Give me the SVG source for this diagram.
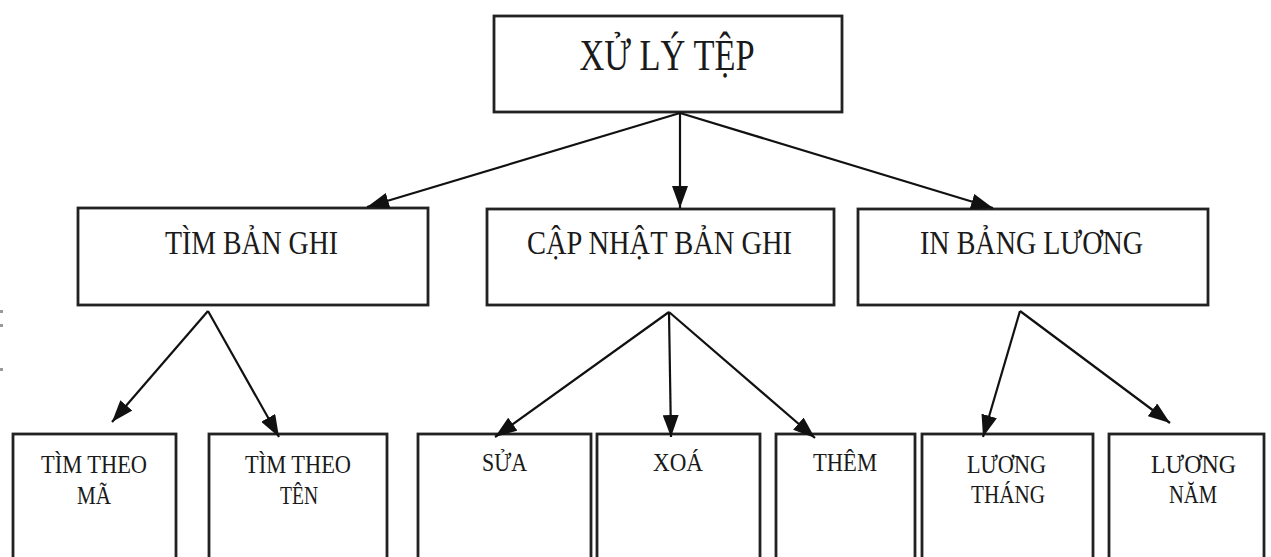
<svg xmlns="http://www.w3.org/2000/svg" width="1271" height="557" viewBox="0 0 1271 557">
  <style>
    .box { fill: #ffffff; stroke: #222222; stroke-width: 2.8; }
    .lbl { font-family: "Liberation Serif", "Times New Roman", serif; fill: #1a1a1a; text-anchor: middle; }
    .t1 { font-size: 44px; }
    .t2 { font-size: 33px; }
    .t3 { font-size: 25px; }
    .edge { fill: none; stroke: #111111; stroke-width: 2.2; }
    .tick { fill: #9a9a9a; }
  </style>
  <defs>
    <marker id="arrow" viewBox="0 0 22 16" refX="22" refY="8" markerWidth="22" markerHeight="16" markerUnits="userSpaceOnUse" orient="auto">
      <path d="M0,0 L22,8 L0,16 Z" fill="#111111"/>
    </marker>
  </defs>

  <rect width="1271" height="557" fill="#ffffff"/>

  <!-- small marks along the left margin -->
  <rect class="tick" x="0" y="310" width="3" height="3"/>
  <rect class="tick" x="0" y="324" width="3" height="3"/>
  <rect class="tick" x="0" y="368" width="3" height="3"/>

  <!-- root -->
  <g id="node-xu-ly-tep">
    <rect class="box" x="494" y="16" width="348" height="96"/>
    <text class="lbl t1" x="667" y="70" textLength="175" lengthAdjust="spacingAndGlyphs">XỬ LÝ TỆP</text>
  </g>

  <!-- second level -->
  <g id="node-tim-ban-ghi">
    <rect class="box" x="78" y="208" width="350" height="97"/>
    <text class="lbl t2" x="251.5" y="254" textLength="173" lengthAdjust="spacingAndGlyphs">TÌM BẢN GHI</text>
  </g>
  <g id="node-cap-nhat-ban-ghi">
    <rect class="box" x="487" y="209" width="347" height="96"/>
    <text class="lbl t2" x="659.5" y="254" textLength="265" lengthAdjust="spacingAndGlyphs">CẬP NHẬT BẢN GHI</text>
  </g>
  <g id="node-in-bang-luong">
    <rect class="box" x="858" y="209" width="350" height="96"/>
    <text class="lbl t2" x="1031.5" y="254" textLength="223" lengthAdjust="spacingAndGlyphs">IN BẢNG LƯƠNG</text>
  </g>

  <!-- third level -->
  <g id="node-tim-theo-ma">
    <rect class="box" x="13" y="434" width="163" height="140"/>
    <text class="lbl t3" x="94" y="473" textLength="106" lengthAdjust="spacingAndGlyphs">TÌM THEO</text>
    <text class="lbl t3" x="94" y="504" textLength="34" lengthAdjust="spacingAndGlyphs">MÃ</text>
  </g>
  <g id="node-tim-theo-ten">
    <rect class="box" x="209" y="434" width="178" height="140"/>
    <text class="lbl t3" x="298" y="473" textLength="106" lengthAdjust="spacingAndGlyphs">TÌM THEO</text>
    <text class="lbl t3" x="299" y="504" textLength="38" lengthAdjust="spacingAndGlyphs">TÊN</text>
  </g>
  <g id="node-sua">
    <rect class="box" x="418" y="434" width="173" height="140"/>
    <text class="lbl t3" x="504.5" y="471" textLength="45" lengthAdjust="spacingAndGlyphs">SỬA</text>
  </g>
  <g id="node-xoa">
    <rect class="box" x="597" y="434" width="163" height="140"/>
    <text class="lbl t3" x="678" y="471" textLength="50" lengthAdjust="spacingAndGlyphs">XOÁ</text>
  </g>
  <g id="node-them">
    <rect class="box" x="776" y="434" width="139" height="140"/>
    <text class="lbl t3" x="845" y="471" textLength="64" lengthAdjust="spacingAndGlyphs">THÊM</text>
  </g>
  <g id="node-luong-thang">
    <rect class="box" x="922" y="434" width="171" height="140"/>
    <text class="lbl t3" x="1006.5" y="473" textLength="79" lengthAdjust="spacingAndGlyphs">LƯƠNG</text>
    <text class="lbl t3" x="1008" y="503" textLength="74" lengthAdjust="spacingAndGlyphs">THÁNG</text>
  </g>
  <g id="node-luong-nam">
    <rect class="box" x="1109" y="434" width="155" height="140"/>
    <text class="lbl t3" x="1193.5" y="473" textLength="85" lengthAdjust="spacingAndGlyphs">LƯƠNG</text>
    <text class="lbl t3" x="1193" y="503" textLength="48" lengthAdjust="spacingAndGlyphs">NĂM</text>
  </g>

  <!-- connectors -->
  <g id="connectors">
    <line class="edge" x1="680" y1="113" x2="367" y2="207" marker-end="url(#arrow)"/>
    <line class="edge" x1="680" y1="113" x2="680" y2="208" marker-end="url(#arrow)"/>
    <line class="edge" x1="680" y1="113" x2="993" y2="208" marker-end="url(#arrow)"/>

    <line class="edge" x1="208" y1="311" x2="112" y2="422" marker-end="url(#arrow)"/>
    <line class="edge" x1="208" y1="311" x2="279" y2="437" marker-end="url(#arrow)"/>

    <line class="edge" x1="669" y1="312" x2="495" y2="437" marker-end="url(#arrow)"/>
    <line class="edge" x1="669" y1="312" x2="671" y2="437" marker-end="url(#arrow)"/>
    <line class="edge" x1="669" y1="312" x2="815" y2="438" marker-end="url(#arrow)"/>

    <line class="edge" x1="1020" y1="311" x2="983" y2="437" marker-end="url(#arrow)"/>
    <line class="edge" x1="1020" y1="311" x2="1170" y2="423" marker-end="url(#arrow)"/>
  </g>
</svg>
